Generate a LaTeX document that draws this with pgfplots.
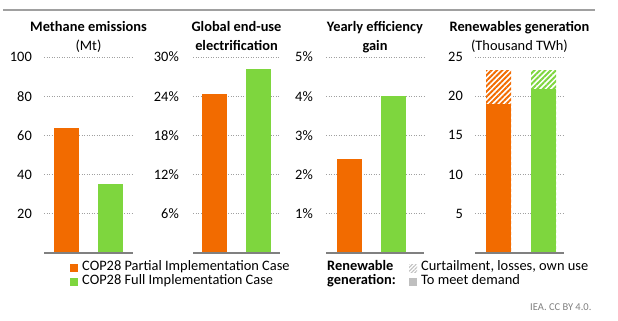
\documentclass[border=0pt]{standalone}
\usepackage{fontspec}
\setmainfont{Carlito}
\usepackage{pgfplots}
\pgfplotsset{compat=1.18}
\usetikzlibrary{patterns.meta}

\definecolor{partial}{HTML}{F26B00}
\definecolor{full}{HTML}{7ED63E}
\definecolor{gridgray}{HTML}{A0A0A0}
\definecolor{basegray}{HTML}{808080}
\definecolor{rulegray}{HTML}{A0A0A0}
\definecolor{demandgray}{HTML}{BFBFBF}

\newcommand{\txt}{\fontsize{14.4bp}{17bp}\selectfont}

\pgfplotsset{
  panel/.style={
    scale only axis,
    height=196bp,
    ymin=0,
    axis line style={draw=none},
    tick style={draw=none},
    xtick=\empty,
    ymajorgrids,
    grid style={gridgray, line width=0.9bp, dash pattern=on 1bp off 1.5bp},
    yticklabel style={font=\txt, anchor=east, inner sep=0pt},
    anchor=south west,
  },
  solidbar/.style={ybar, bar shift=0pt, bar width=25, draw=none, fill=#1},
  hatchbar/.style={ybar, bar shift=0pt, bar width=25, draw=none, fill=white,
    postaction={pattern={Lines[angle=45,distance=3.8bp,line width=1.9bp]}, pattern color=#1}},
}

\newcommand{\panelbase}{\draw[basegray, line width=1.6bp] (rel axis cs:0,0) -- (rel axis cs:1,0);}

\begin{document}
\begin{tikzpicture}[x=1bp,y=1bp]
\useasboundingbox (0,0) rectangle (618,320);

% rule across the top
\draw[rulegray, line width=1.2bp] (3,310) -- (595,310);

% Methane emissions
\begin{axis}[panel, at={(44bp,67bp)}, width=89bp, xmin=44, xmax=133, ymax=100,
  ytick={20,40,60,80,100}, yticklabels={20,40,60,80,100},
  yticklabel style={xshift=-12bp}]
  \addplot[solidbar=partial] coordinates {(66.5,64)};
  \addplot[solidbar=full] coordinates {(110.5,35)};
  \panelbase
\end{axis}

% Global end-use electrification
\begin{axis}[panel, at={(193bp,67bp)}, width=87bp, xmin=193, xmax=280, ymax=30,
  ytick={6,12,18,24,30}, yticklabels={6\%,12\%,18\%,24\%,30\%},
  yticklabel style={xshift=-14bp}]
  \addplot[solidbar=partial] coordinates {(214.5,24.3)};
  \addplot[solidbar=full] coordinates {(258.5,28.2)};
  \panelbase
\end{axis}

% Yearly efficiency gain
\begin{axis}[panel, at={(326bp,67bp)}, width=98bp, xmin=326, xmax=424, ymax=5,
  ytick={1,2,3,4,5}, yticklabels={1\%,2\%,3\%,4\%,5\%},
  yticklabel style={xshift=-13bp}]
  \addplot[solidbar=partial] coordinates {(349.5,2.4)};
  \addplot[solidbar=full] coordinates {(393.5,4.0)};
  \panelbase
\end{axis}

% Renewables generation
\begin{axis}[panel, at={(475bp,67bp)}, width=89bp, xmin=475, xmax=564, ymax=25,
  ytick={5,10,15,20,25}, yticklabels={5,10,15,20,25},
  yticklabel style={xshift=-12bp}]
  % total generation, including curtailment, losses and own use
  \addplot[hatchbar=partial] coordinates {(498.5,23.3)};
  \addplot[hatchbar=full] coordinates {(543.5,23.3)};
  % generation to meet demand
  \addplot[solidbar=partial] coordinates {(498.5,19.0)};
  \addplot[solidbar=full] coordinates {(543.5,20.9)};
  \panelbase
\end{axis}

% panel titles
\begin{scope}[every node/.style={font=\txt, inner sep=0pt, anchor=base}]
  \node[font=\txt\bfseries] at (88.5,289) {Methane emissions};
  \node at (88.5,270) {(Mt)};
  \node[font=\txt\bfseries] at (236.5,289) {Global end-use};
  \node[font=\txt\bfseries] at (236.5,270) {electrification};
  \node[font=\txt\bfseries] at (375,289) {Yearly efficiency};
  \node[font=\txt\bfseries] at (375,270) {gain};
  \node[font=\txt\bfseries] at (519.5,289) {Renewables generation};
  \node at (519.5,270) {(Thousand TWh)};
\end{scope}

% legend
\fill[partial] (70,48) rectangle (78,56);
\fill[full] (70,34) rectangle (78,42);
\begin{scope}[every node/.style={font=\txt, inner sep=0pt, anchor=mid west}]
  \node at (82,52) {COP28 Partial Implementation Case};
  \node at (82,38) {COP28 Full Implementation Case};
  \node[font=\txt\bfseries] at (327,52) {Renewable};
  \node[font=\txt\bfseries] at (327,38) {generation:};
  \node at (421,52) {Curtailment, losses, own use};
  \node at (421,38) {To meet demand};
\end{scope}
\fill[pattern={Lines[angle=45,distance=2.6bp,line width=1.1bp]}, pattern color=demandgray] (409,48) rectangle (417,56);
\fill[demandgray] (409,34) rectangle (417,42);

\node[font=\fontsize{10.5bp}{12bp}\selectfont, text=basegray, inner sep=0pt, anchor=mid west] at (530,12) {IEA. CC BY 4.0.};
\end{tikzpicture}
\end{document}
